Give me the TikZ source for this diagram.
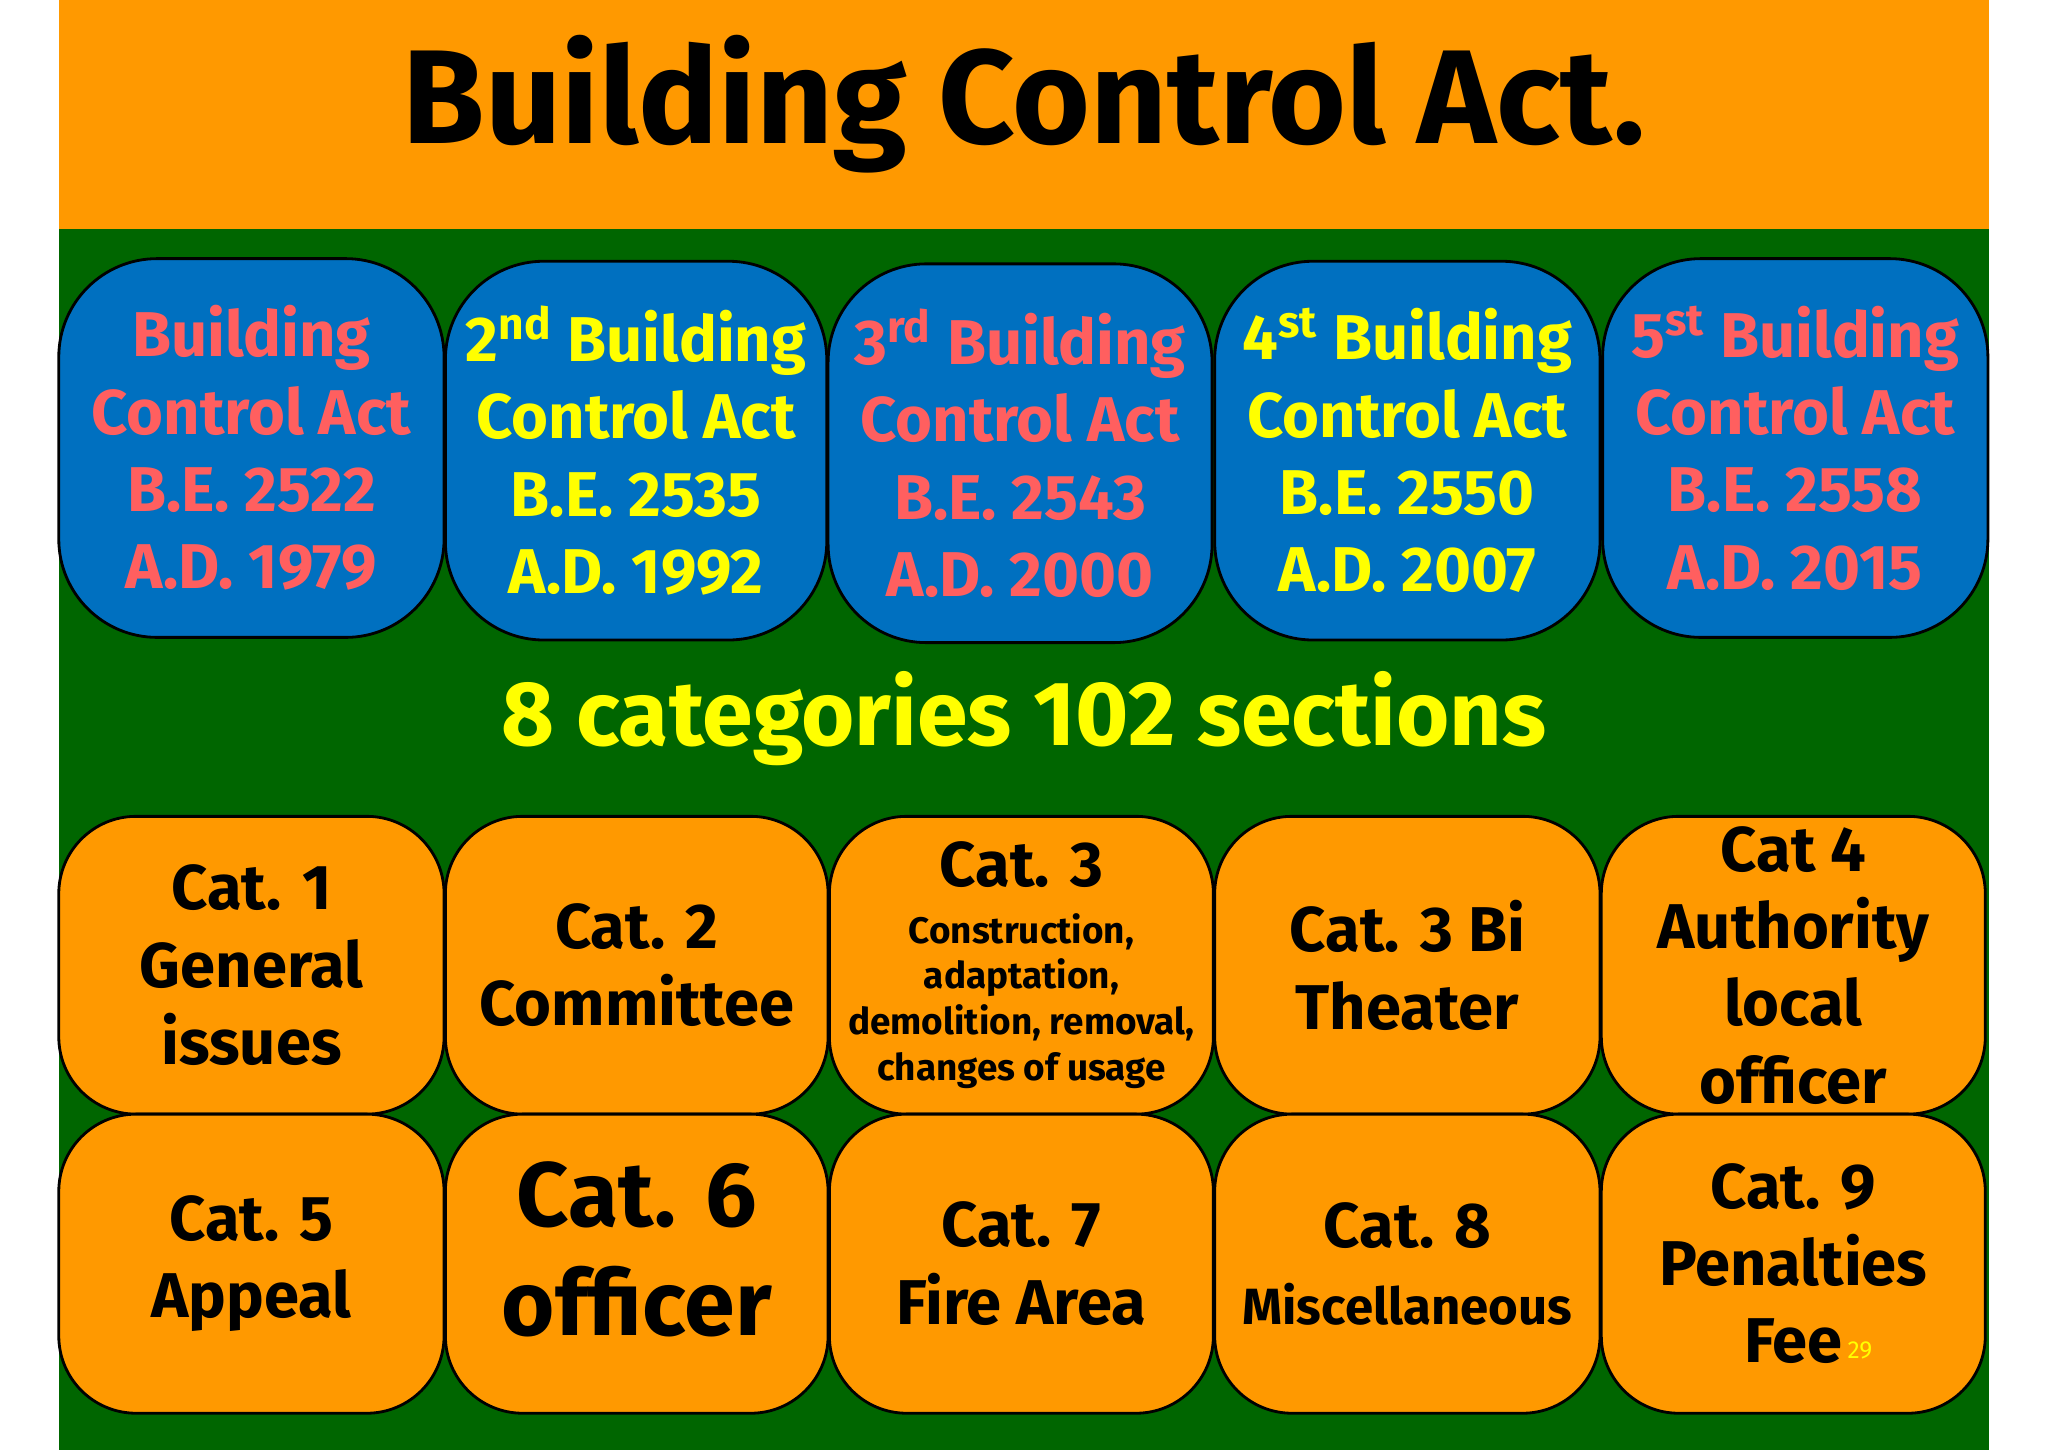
\documentclass[tikz,border=0pt]{standalone}
\usepackage{fontspec}
\setmainfont{Fira Sans}
\definecolor{org}{HTML}{FF9900}
\definecolor{grn}{HTML}{006600}
\definecolor{blu}{HTML}{0070C0}
\definecolor{pnk}{HTML}{FF5F5F}
\definecolor{yel}{HTML}{FFFF00}
\begin{document}
\begin{tikzpicture}[x=0.01306cm,y=-0.01306cm,
 act/.style={draw=black,fill=blu,rounded corners=28pt,line width=0.8pt,align=center,font=\fontsize{18}{22}\bfseries},
 cat/.style={draw=black,fill=org,rounded corners=22pt,line width=0.8pt,align=center,font=\fontsize{18}{22}\bfseries}]
\useasboundingbox (0,0) rectangle (1568,1110);
\fill[white] (0,0) rectangle (1568,1110);
\fill[grn] (45,0) rectangle (1523,1110);
\fill[org] (45,0) rectangle (1523,175);
\node (title) at (784,80) {\fontsize{38}{44}\bfseries Building Control Act.};
\path[act] (45,198) rectangle (340,488) node[midway,text=pnk] (a1) {Building\\Control Act\\B.E. 2522\\A.D. 1979};
\path[act] (341,200) rectangle (633,490) node[midway,text=yel] (a2) {2\textsuperscript{nd} Building\\Control Act\\B.E. 2535\\A.D. 1992};
\path[act] (634,202) rectangle (928,492) node[midway,text=pnk] (a3) {3\textsuperscript{rd} Building\\Control Act\\B.E. 2543\\A.D. 2000};
\path[act] (930,200) rectangle (1225,490) node[midway,text=yel] (a4) {4\textsuperscript{st} Building\\Control Act\\B.E. 2550\\A.D. 2007};
\path[act] (1227,198) rectangle (1522,488) node[midway,text=pnk] (a5) {5\textsuperscript{st} Building\\Control Act\\B.E. 2558\\A.D. 2015};
\node[text=yel] (sub) at (784,550) {\fontsize{26}{30}\bfseries 8 categories 102 sections};
\path[cat] (45,625) rectangle (340,853) node[midway] (c1) {Cat. 1\\General\\issues};
\path[cat] (341,625) rectangle (634,853) node[midway] (c2) {Cat. 2\\Committee};
\path[cat] (635,625) rectangle (929,853) node[midway,font=\fontsize{10.5}{13}\bfseries] (c3) {{\fontsize{18}{22}\selectfont Cat. 3}\\[3pt]Construction,\\adaptation,\\demolition, removal,\\changes of usage};
\path[cat] (930,625) rectangle (1225,853) node[midway] (c4) {Cat. 3 Bi\\Theater};
\path[cat] (1226,625) rectangle (1520,853) node[midway] (c5) {Cat 4\\Authority\\local\\officer};
\path[cat] (45,853) rectangle (340,1082) node[midway] (c6) {Cat. 5\\Appeal};
\path[cat] (341,853) rectangle (634,1082) node[midway,font=\fontsize{26}{31}\bfseries,yshift=4pt] (c7) {Cat. 6\\officer};
\path[cat] (635,853) rectangle (929,1082) node[midway] (c8) {Cat. 7\\Fire Area};
\path[cat] (930,853) rectangle (1225,1082) node[midway,font=\fontsize{14.5}{22}\bfseries] (c9) {{\fontsize{18}{22}\selectfont Cat. 8}\\Miscellaneous};
\path[cat] (1226,853) rectangle (1520,1082) node[midway] (c10) {Cat. 9\\Penalties\\Fee};
\node[text=yel,font=\fontsize{7}{8}\selectfont] (pg) at (1424,1034) {29};
\end{tikzpicture}
\end{document}
